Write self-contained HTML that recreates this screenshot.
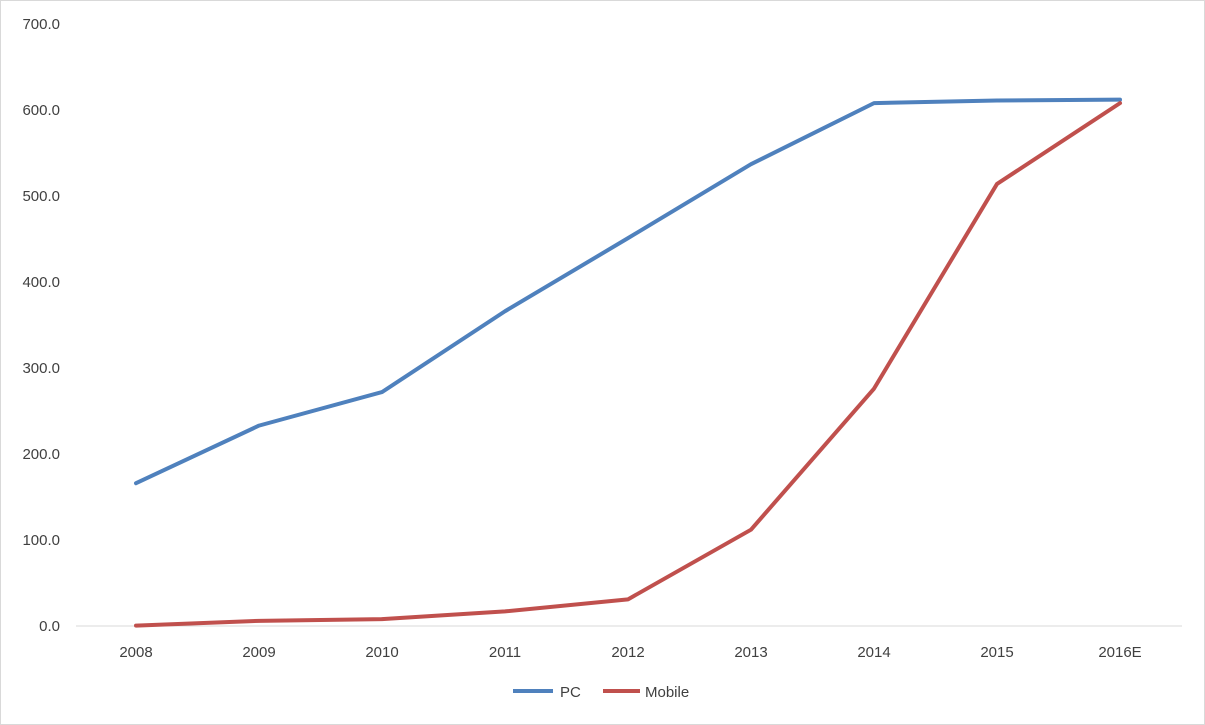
<!DOCTYPE html>
<html><head><meta charset="utf-8"><style>
html,body{margin:0;padding:0;background:#fff;}
svg{display:block;font-family:"Liberation Sans",sans-serif;}
</style></head><body>
<svg id="chart" width="1205" height="725" viewBox="0 0 1205 725">
<rect x="0.5" y="0.5" width="1204" height="724" fill="#fff" stroke="#d9d9d9"/>
<g id="yaxis"></g>
<g id="xaxis"></g>
<g id="series"></g>
<g>
<line x1="513" y1="691" x2="553" y2="691" stroke="#4f81bd" stroke-width="4"/>
<text x="560" y="697" font-size="15" fill="#404040">PC</text>
<line x1="603" y1="691" x2="640" y2="691" stroke="#c0504d" stroke-width="4"/>
<text x="645" y="697" font-size="15" fill="#404040">Mobile</text>
</g>
</svg>
<script>
const categories = ["2008","2009","2010","2011","2012","2013","2014","2015","2016E"];
const pcValues = [166, 233, 272, 366, 451, 537, 608, 611, 612];
const mobileValues = [0.5, 6, 8, 17, 31, 112, 276, 514, 608];
const yTicks = [0,100,200,300,400,500,600,700];

const NS="http://www.w3.org/2000/svg";
const x0=136, xStep=123, yBase=626, yTop=24, yMax=700;
function xPos(i){return x0+i*xStep;}
function yPos(v){return yBase-(v/yMax)*(yBase-yTop);}
function mk(tag,attrs,parent){const e=document.createElementNS(NS,tag);for(const k in attrs)e.setAttribute(k,attrs[k]);parent.appendChild(e);return e;}

const yg=document.getElementById('yaxis');
yTicks.forEach(t=>{
  const tx=mk('text',{x:60,y:yPos(t)+5,'text-anchor':'end','font-size':15,fill:'#404040'},yg);
  
  
  tx.textContent=t.toFixed(1);
});
const xg=document.getElementById('xaxis');
const ax=mk('line',{x1:76,y1:yBase,x2:1182,y2:yBase,stroke:'#d9d9d9','stroke-width':1},xg);


categories.forEach((c,i)=>{
  const tx=mk('text',{x:xPos(i),y:657,'text-anchor':'middle','font-size':15,fill:'#404040'},xg);
  
  
  tx.textContent=c;
});
const sg=document.getElementById('series');
function line(vals,color,name){
  const p=mk('polyline',{points:vals.map((v,i)=>xPos(i)+','+yPos(v)).join(' '),fill:'none',stroke:color,'stroke-width':4,'stroke-linejoin':'round','stroke-linecap':'round'},sg);
  
  
}
line(pcValues,'#4f81bd','pc-line');
line(mobileValues,'#c0504d','mobile-line');
</script>
</body></html>
